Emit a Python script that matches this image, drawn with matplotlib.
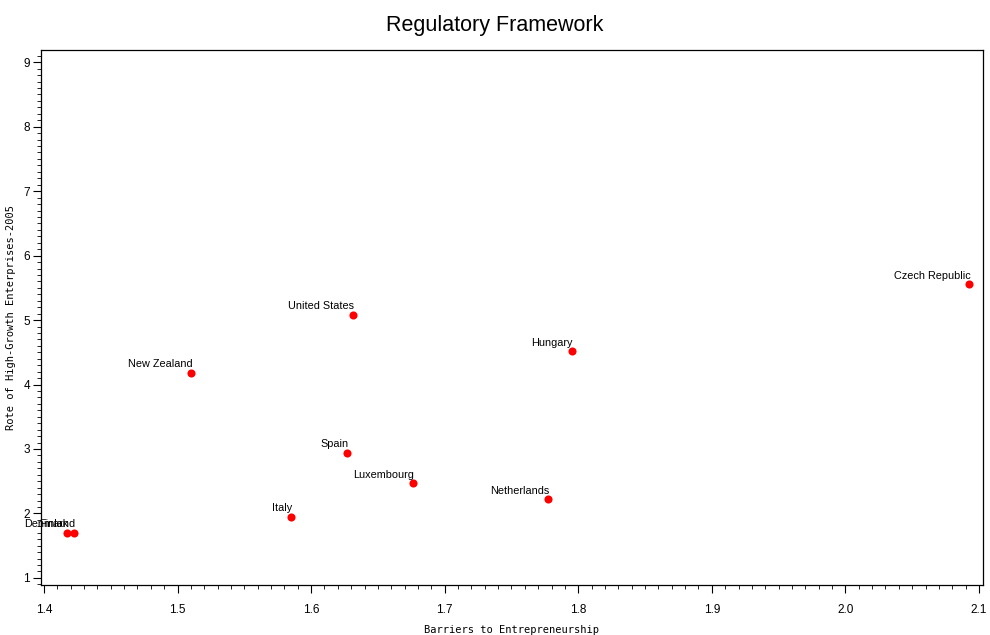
import matplotlib
matplotlib.use("Agg")
import matplotlib.pyplot as plt
from matplotlib.ticker import MultipleLocator

countries = ["Denmark", "Finland", "Italy", "New Zealand", "Spain", "United States",
             "Luxembourg", "Netherlands", "Hungary", "Czech Republic"]
barriers = [1.417, 1.4225, 1.585, 1.510, 1.627, 1.631, 1.676, 1.777, 1.795, 2.0925]
high_growth = [1.70, 1.70, 1.95, 4.18, 2.94, 5.08, 2.47, 2.22, 4.52, 5.56]

x_ticks = [1.4, 1.5, 1.6, 1.7, 1.8, 1.9, 2.0, 2.1]
y_ticks = [1, 2, 3, 4, 5, 6, 7, 8, 9]

fig = plt.figure(figsize=(9.9, 6.35), dpi=100)
ax = fig.add_axes([41/990, 1 - 585/635, 942/990, 535/635])

ax.scatter(barriers, high_growth, s=34, color="#ff0000", zorder=3, linewidths=0)
for name, x, y in zip(countries, barriers, high_growth):
    ax.annotate(name, (x, y), xytext=(1, 2.5), textcoords="offset points",
                ha="right", va="bottom", fontsize=7.8, family="Liberation Sans")

ax.set_xlim(1.3978, 2.103)
ax.set_ylim(0.89, 9.19)
ax.set_xticks(x_ticks)
ax.set_xticklabels([f"{v:.1f}" for v in x_ticks])
ax.set_yticks(y_ticks)
ax.xaxis.set_minor_locator(MultipleLocator(0.01))
ax.yaxis.set_minor_locator(MultipleLocator(0.1))
ax.tick_params(axis="both", which="major", direction="out", length=6, width=0.8,
               labelsize=8.5)
ax.tick_params(axis="both", which="minor", direction="out", length=3, width=0.6)
for lab in ax.get_xticklabels() + ax.get_yticklabels():
    lab.set_family("Liberation Sans")
ax.tick_params(axis="x", pad=8)
ax.tick_params(axis="y", pad=2)

ax.set_xlabel("Barriers to Entrepreneurship", fontsize=7.5, family="DejaVu Sans Mono",
              labelpad=6)
ax.set_ylabel("Rote of High-Growth Enterprises-2005", fontsize=7.5,
              family="DejaVu Sans Mono", labelpad=5)

fig.text(0.5, 1 - 25/635, "Regulatory Framework", ha="center", va="center",
         fontsize=15.5, family="Liberation Sans")

for sp in ax.spines.values():
    sp.set_linewidth(0.9)

fig.savefig("out.png", dpi=100)
